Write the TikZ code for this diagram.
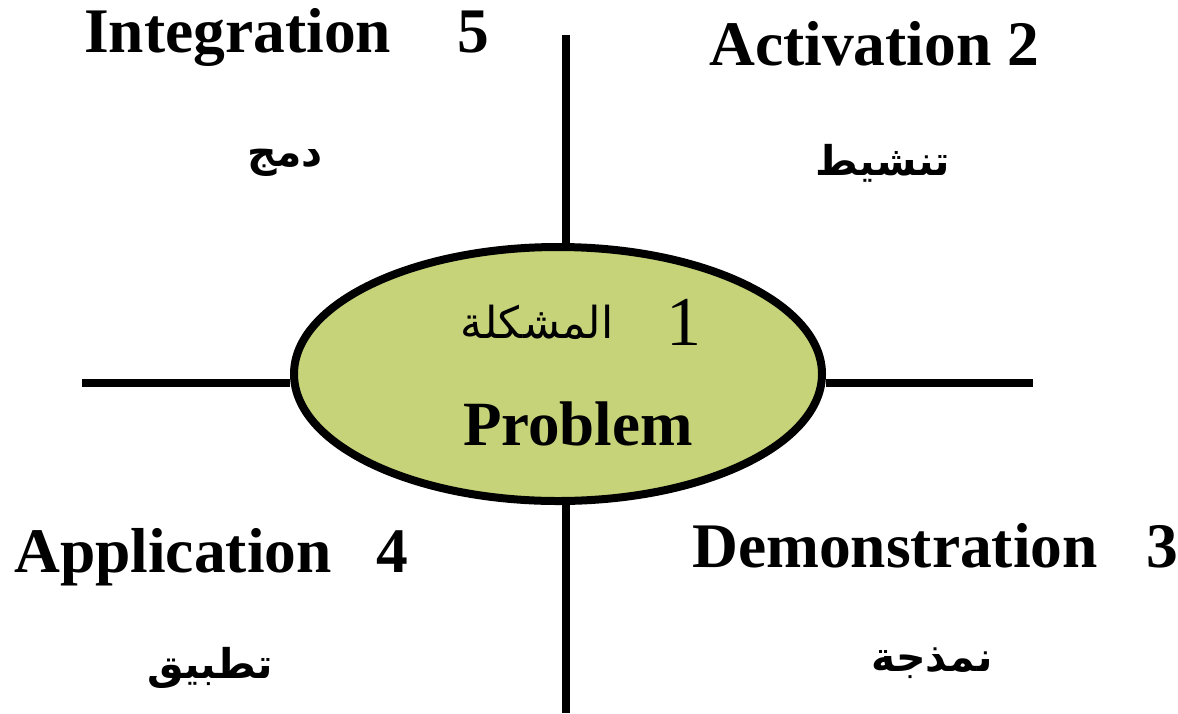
\documentclass[tikz,border=0pt]{standalone}
\usepackage{fontspec}
\setmainfont{Liberation Serif}
\newfontfamily\arabicfont[Script=Arabic]{DejaVu Sans}
\TeXXeTstate=1
\usetikzlibrary{shapes.geometric,backgrounds}
\definecolor{probfill}{RGB}{198,211,120}
\tikzset{
  head/.style={font=\fontsize{63.5}{63.5}\selectfont\bfseries, inner sep=0pt, anchor=base west},
  arab/.style={font=\fontsize{41}{41}\selectfont\arabicfont\bfseries, inner sep=0pt},
  axis/.style={line width=7.5pt},
}
\begin{document}
\begin{tikzpicture}[x=1pt,y=-1pt]
\useasboundingbox (0,0) rectangle (1178,713);
% central ellipse
\node[ellipse, draw, line width=8pt, fill=probfill, minimum width=528pt, minimum height=254pt, inner sep=0pt] (prob) at (558,374) {};
\coordinate (vtop) at (566,35);
\coordinate (vbot) at (566,713);
\coordinate (hleft) at (82,383);
\coordinate (hright) at (1033,383);
\begin{scope}[on background layer]
\draw[axis] (vtop) -- (vtop |- prob.north);
\draw[axis] (vbot |- prob.south) -- (vbot);
\draw[axis] (hleft) -- (hleft -| prob.west);
\draw[axis] (hright -| prob.east) -- (hright);
\end{scope}
% texts in ellipse
\node[font=\fontsize{70}{70}\selectfont, inner sep=0pt, anchor=base west] (one) at (666,345) {1};
\node[font=\fontsize{44}{44}\selectfont\arabicfont, inner sep=0pt] (mushkila) at (537,322) {\beginR المشكلة\endR};
\node[font=\fontsize{63}{63}\selectfont\bfseries, inner sep=0pt, anchor=base] (problem) at (578,445) {Problem};
% headings
\node[head] (integ) at (84,52) {Integration};
\node[head] (five) at (457,52) {5};
\node[head] (activ) at (709,65) {Activation 2};
\node[head] (appl) at (14,572) {Application};
\node[head] (four) at (376,572) {4};
\node[head] (demo) at (692,567) {Demonstration};
\node[head] (three) at (1146,567) {3};
% arabic labels
\node[arab] (damj) at (285,163) {\beginR دمج\endR};
\node[arab] (tanshit) at (883,163) {\beginR تنشيط\endR};
\node[arab] (tatbiq) at (210,668) {\beginR تطبيق\endR};
\node[arab] (namdhaja) at (932,663) {\beginR نمذجة\endR};
\end{tikzpicture}
\end{document}
